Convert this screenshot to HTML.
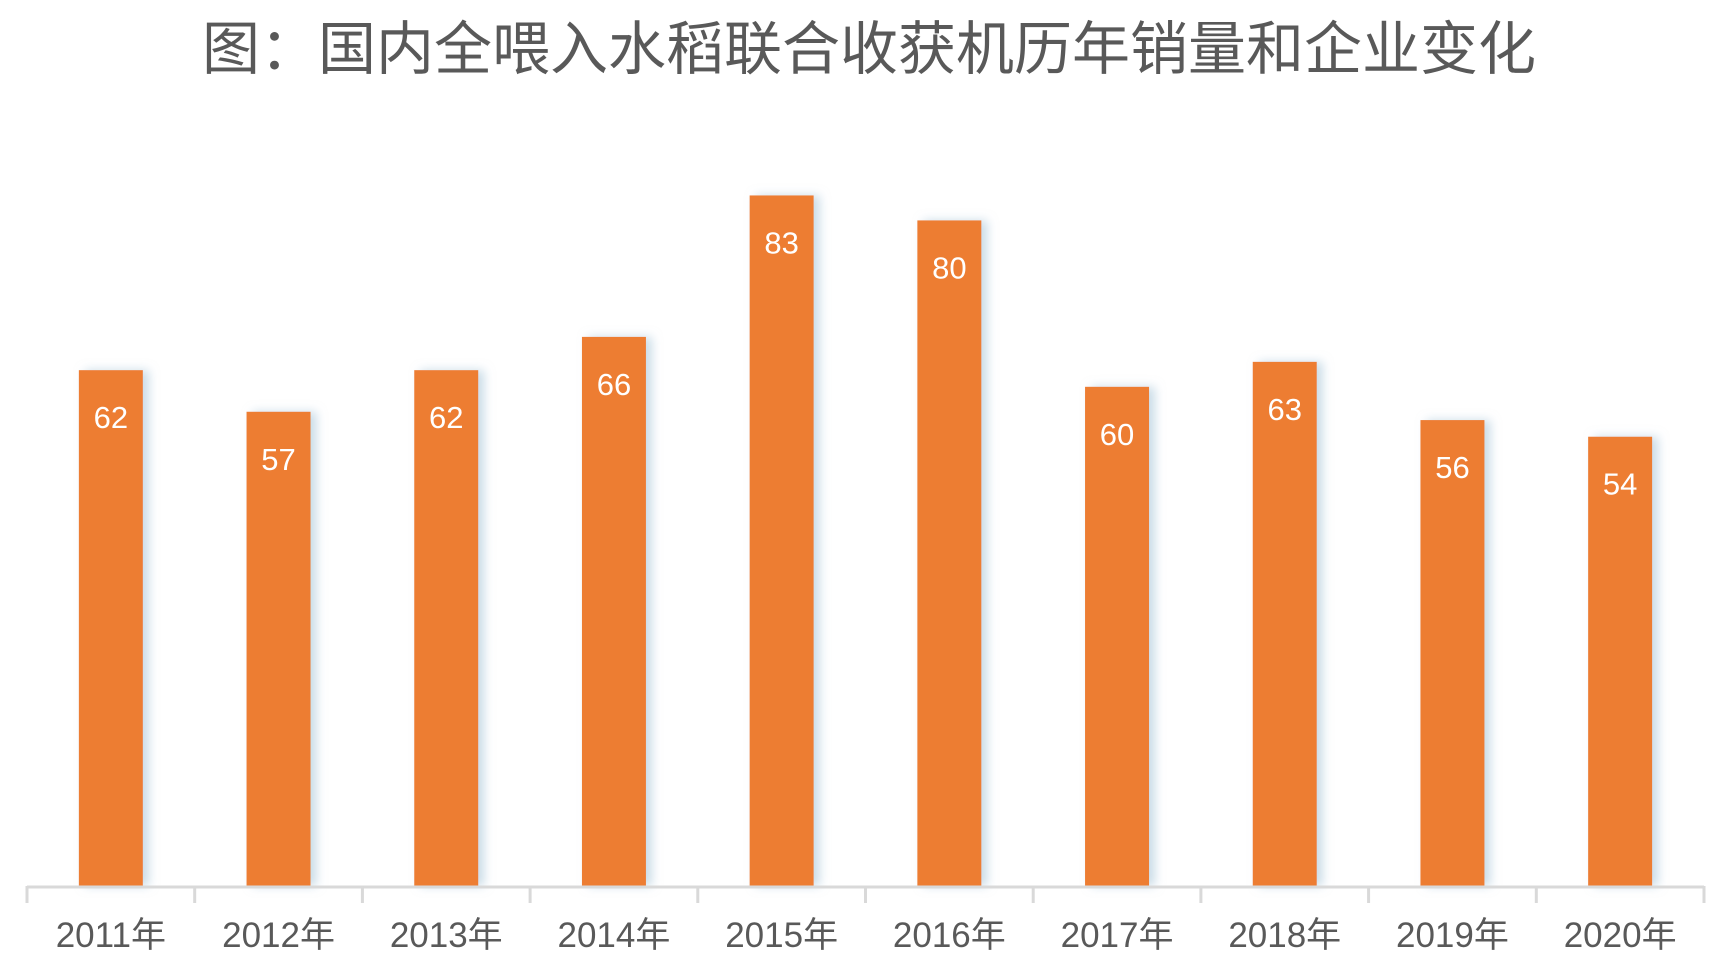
<!DOCTYPE html>
<html><head><meta charset="utf-8">
<style>
html,body{margin:0;padding:0;background:#fff;}
body{width:1724px;height:975px;position:relative;overflow:hidden;font-family:"Liberation Sans","Noto Sans CJK SC",sans-serif;}
#title{position:absolute;left:0;width:1738px;top:4px;text-align:center;font-size:58px;color:#595959;font-family:"Noto Sans CJK SC","WenQuanYi Zen Hei",sans-serif;white-space:nowrap;line-height:80px;}
</style></head>
<body>
<div id="title">图：国内全喂入水稻联合收获机历年销量和企业变化</div>
<svg id="chart" width="1724" height="975" style="position:absolute;left:0;top:0">
<defs><filter id="sh" x="-20%" y="-5%" width="160%" height="110%"><feDropShadow dx="6" dy="0" stdDeviation="5" flood-color="#9fbfd4" flood-opacity="0.55"/></filter></defs>
<g id="bars"></g><g id="axis"></g>
</svg>
<script>
const categories=["2011年","2012年","2013年","2014年","2015年","2016年","2017年","2018年","2019年","2020年"];
const values=[62,57,62,66,83,80,60,63,56,54];
const ns="http://www.w3.org/2000/svg";
const left=27,right=1704,base=886,perUnit=8.32,barW=64;
const step=(right-left)/categories.length;
function xc(i){return left+step*(i+0.5);}
function y(v){return base-v*perUnit;}
const bars=document.getElementById('bars'),axis=document.getElementById('axis');
function mk(t,a,p){const e=document.createElementNS(ns,t);for(const k in a)e.setAttribute(k,a[k]);p.appendChild(e);return e;}
values.forEach((v,i)=>{
  const r=mk('rect',{x:xc(i)-barW/2,y:y(v),width:barW,height:base-y(v),fill:'#ED7D31',filter:'url(#sh)'},bars);
  
  
  const t=mk('text',{x:xc(i),y:y(v)+58,'text-anchor':'middle','font-size':'31',fill:'#fff','font-family':'"Liberation Sans","DejaVu Sans",sans-serif'},bars);
  t.textContent=v;
  
  
});
const ax=mk('line',{x1:left,y1:base+1,x2:right,y2:base+1,stroke:'#d9d9d9','stroke-width':3},axis);


for(let i=0;i<=categories.length;i++){
  const tk=mk('line',{x1:left+step*i,y1:base,x2:left+step*i,y2:base+17,stroke:'#d9d9d9','stroke-width':3},axis);
  
  
}
categories.forEach((c,i)=>{
  const t=mk('text',{x:xc(i),y:947,'text-anchor':'middle','font-size':'35',fill:'#595959','font-family':'"Liberation Sans","Noto Sans CJK SC",sans-serif'},axis);
  t.textContent=c;
  
  
});
</script>
</body></html>
